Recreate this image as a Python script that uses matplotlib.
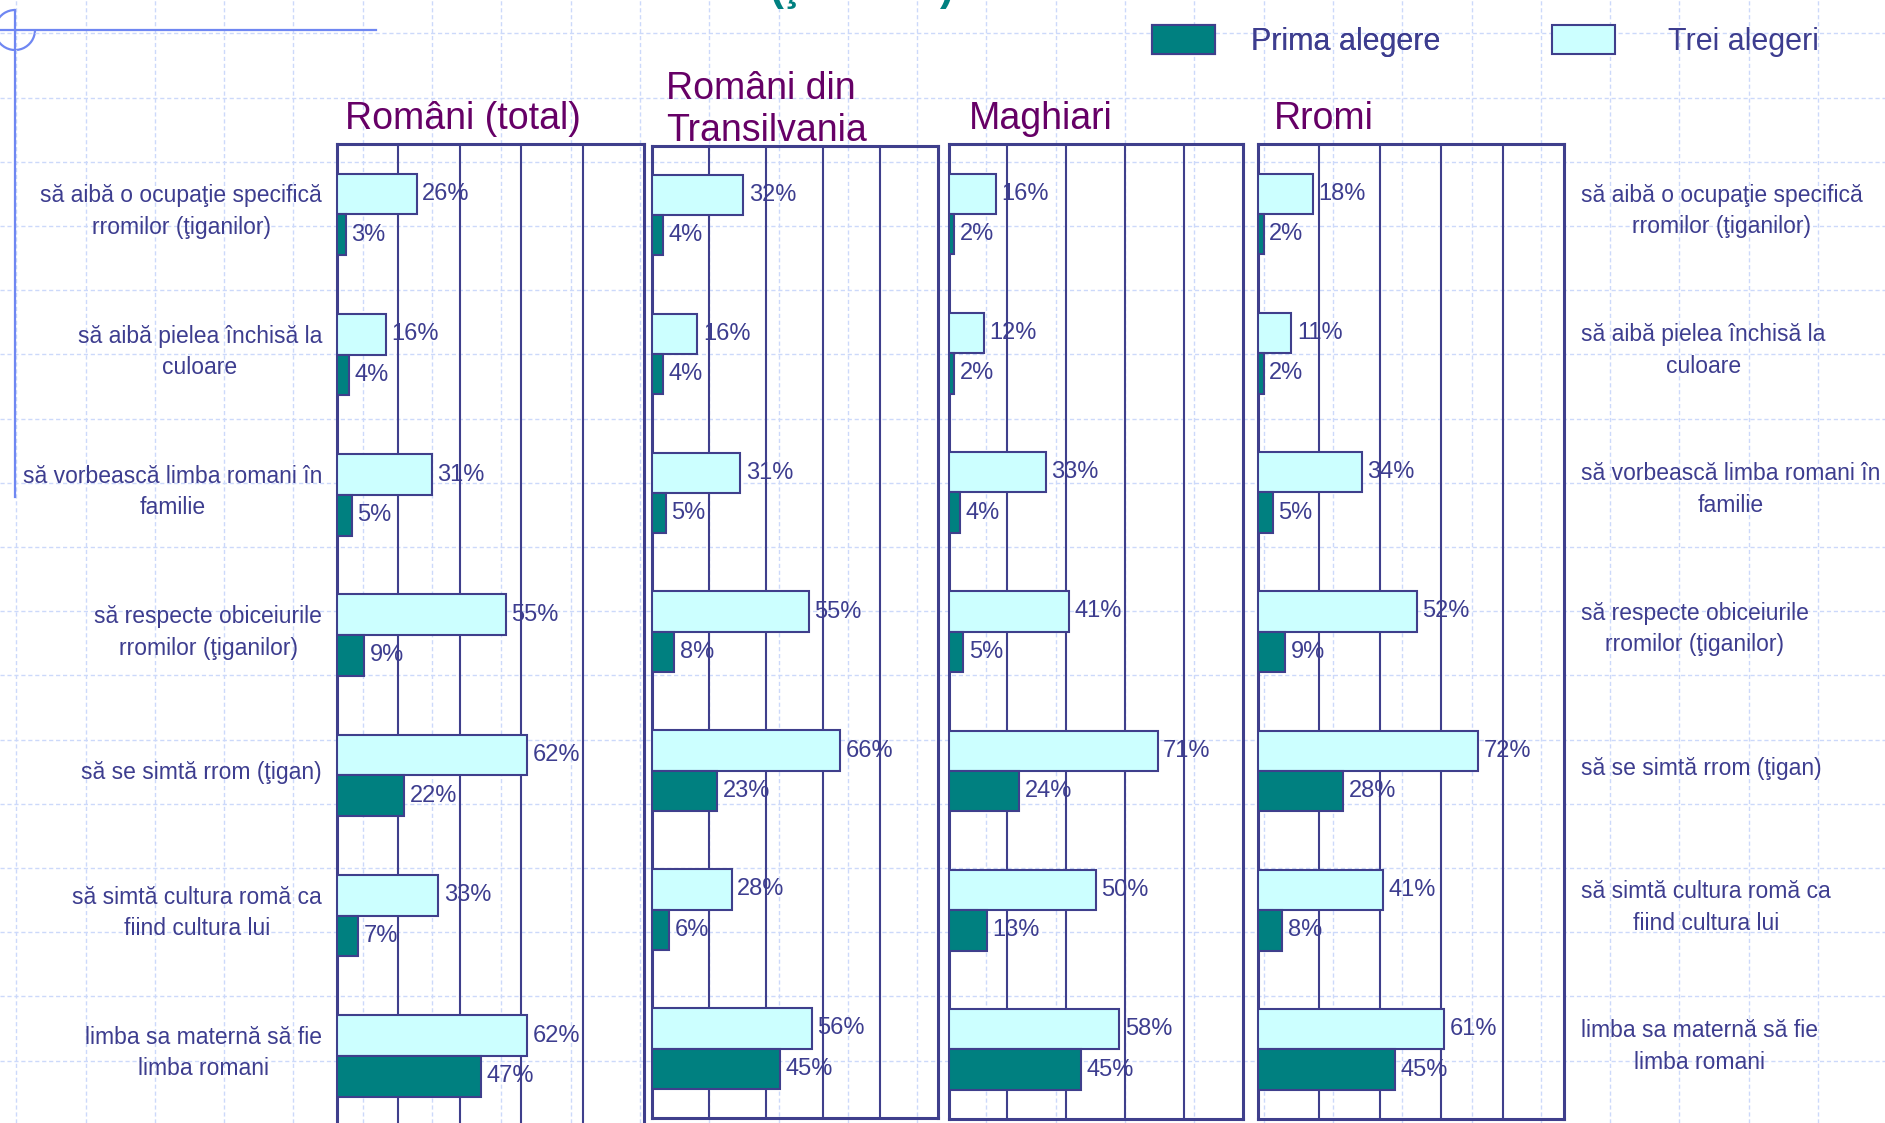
import numpy as np
import matplotlib
matplotlib.use("Agg")
import matplotlib.pyplot as plt
from matplotlib import transforms
from matplotlib.patches import Arc

plt.rcParams['font.family'] = ['Liberation Sans', 'DejaVu Sans']

# data
categories = [
    "să aibă o ocupaţie specifică\nrromilor (ţiganilor)",
    "să aibă pielea închisă la\nculoare",
    "să vorbească limba romani în\nfamilie",
    "să respecte obiceiurile\nrromilor (ţiganilor)",
    "să se simtă rrom (ţigan)",
    "să simtă cultura romă ca\nfiind cultura lui",
    "limba sa maternă să fie\nlimba romani",
]
groups = ["Români (total)", "Români din\nTransilvania", "Maghiari", "Rromi"]
trei_romani_total = [26, 16, 31, 55, 62, 33, 62]
prima_romani_total = [3, 4, 5, 9, 22, 7, 47]
trei_transilvania = [32, 16, 31, 55, 66, 28, 56]
prima_transilvania = [4, 4, 5, 8, 23, 6, 45]
trei_maghiari = [16, 12, 33, 41, 71, 50, 58]
prima_maghiari = [2, 2, 4, 5, 24, 13, 45]
trei_rromi = [18, 11, 34, 52, 72, 41, 61]
prima_rromi = [2, 2, 5, 9, 28, 8, 45]
legend_labels = ["Prima alegere", "Trei alegeri"]

trei = [trei_romani_total, trei_transilvania, trei_maghiari, trei_rromi]
prima = [prima_romani_total, prima_transilvania, prima_maghiari, prima_rromi]

# colours
LIGHT = "#CCFFFF"
DARK = "#008080"
EDGE = "#3F3F8C"
TEXT = "#3D3D8F"
PURPLE = "#660066"
DECO = "#6F87F2"
DASH = "#CCD9FA"

W, H = 1885, 1123
fig = plt.figure(figsize=(W / 100, H / 100), dpi=100)
fig.patch.set_facecolor("white")


def px_rect(l, t, r, b):
    return [l / W, 1 - b / H, (r - l) / W, (b - t) / H]


# background: notebook grid + slide decoration
ax_bg = fig.add_axes([0, 0, 1, 1], zorder=-1)
ax_bg.set_xlim(0, W)
ax_bg.set_ylim(H, 0)
ax_bg.axis("off")
for gx in np.arange(16.2, W, 69.3):
    ax_bg.axvline(gx, color=DASH, lw=1.0, ls=(0, (3, 2)))
for gy in np.arange(33.3, H, 64.2):
    ax_bg.axhline(gy, color=DASH, lw=1.0, ls=(0, (3, 2)))
ax_bg.plot([0, 376], [30, 30], color=DECO, lw=1.6)
ax_bg.plot([15, 15], [10, 497], color=DECO, lw=1.6)
ax_bg.add_patch(Arc((15, 30), 40, 40, theta1=0, theta2=270, color=DECO, lw=1.6))
# slide title sits above the visible area; only its lower edge shows
ax_bg.text(770, 0, "(ţ", fontsize=30, fontweight="bold", color=DARK, va="baseline")
ax_bg.text(940, 0, ")", fontsize=30, fontweight="bold", color=DARK, va="baseline")

panels = [
    (336.6, 144.3, 644.4, 1126),
    (651.6, 145.5, 937.7, 1118),
    (948.5, 144.3, 1243, 1119),
    (1257.5, 144.3, 1564, 1119),
]
title_pos = [(345, 129), (666, 141), (969, 129), (1274, 129)]

y = np.arange(len(categories)) + 0.5
axes = []
for k, rect in enumerate(panels):
    ax = fig.add_axes(px_rect(*rect))
    ax.set_facecolor("none")
    ax.set_xlim(0, 100)
    ax.set_ylim(len(categories), 0)
    ax.set_xticks([20, 40, 60, 80])
    ax.set_yticks([])
    ax.tick_params(length=0, labelbottom=False)
    ax.grid(axis="x", color=EDGE, lw=1.5)
    ax.set_axisbelow(True)
    for s in ax.spines.values():
        s.set_color(EDGE)
        s.set_linewidth(2.2)

    b_trei = ax.barh(y - 0.145, trei[k], height=0.29, color=LIGHT,
                     edgecolor=EDGE, lw=1.5, zorder=3)
    b_prima = ax.barh(y + 0.145, prima[k], height=0.29, color=DARK,
                      edgecolor=EDGE, lw=1.5, zorder=3)
    for yy, v in zip(y - 0.145, trei[k]):
        ax.annotate(f"{v}%", xy=(v, yy), xytext=(4, 0), textcoords="offset points",
                    va="center", ha="left", fontsize=17, color=TEXT, zorder=4)
    for yy, v in zip(y + 0.145, prima[k]):
        ax.annotate(f"{v}%", xy=(v, yy), xytext=(4, 0), textcoords="offset points",
                    va="center", ha="left", fontsize=17, color=TEXT, zorder=4)

    tx, ty = title_pos[k]
    ax_bg.text(tx, ty, groups[k], fontsize=27, color=PURPLE, va="baseline",
               linespacing=1.2)
    axes.append(ax)

# category labels on both sides
trans_left = transforms.blended_transform_factory(ax_bg.transData, axes[0].transData)
trans_right = transforms.blended_transform_factory(ax_bg.transData, axes[3].transData)
for yy, lab in zip(y, categories):
    ax_bg.text(322, yy - 0.02, lab, transform=trans_left, ha="right", va="center",
               multialignment="center", fontsize=16.5, color=TEXT, linespacing=1.48)
    ax_bg.text(1581, yy - 0.02, lab, transform=trans_right, ha="left", va="center",
               multialignment="center", fontsize=16.5, color=TEXT, linespacing=1.48)

# legend, one entry at a time
leg_kw = dict(ncol=1, frameon=False, fontsize=22, labelcolor=TEXT,
              handlelength=2.06, handleheight=1.1, loc="center left",
              borderpad=0, borderaxespad=0)
leg1 = fig.legend(handles=[b_prima], labels=[legend_labels[0]], handletextpad=1.19,
                  bbox_to_anchor=(1152 / W, 1 - 41 / H), **leg_kw)
fig.add_artist(leg1)
fig.legend(handles=[b_trei], labels=[legend_labels[1]], handletextpad=1.73,
           bbox_to_anchor=(1552 / W, 1 - 41 / H), **leg_kw)

fig.savefig("out.png", dpi=100)
